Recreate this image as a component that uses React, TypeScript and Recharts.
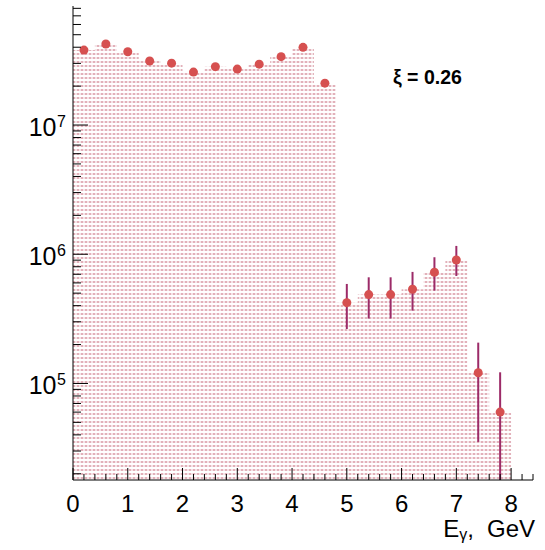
import React from 'react';
import { ComposedChart, Area, Scatter, ErrorBar, XAxis, YAxis } from 'recharts';

// bin centres (GeV), bin width 0.4
const binCenters = [0.2, 0.6, 1.0, 1.4, 1.8, 2.2, 2.6, 3.0, 3.4, 3.8, 4.2, 4.6, 5.0, 5.4, 5.8, 6.2, 6.6, 7.0, 7.4, 7.8];
const binWidth = 0.4;

const counts = [
  3.8e7, 4.24e7, 3.69e7, 3.13e7, 3.01e7, 2.57e7, 2.83e7, 2.71e7, 2.96e7, 3.38e7,
  3.99e7, 2.11e7, 4.22e5, 4.87e5, 4.87e5, 5.36e5, 7.26e5, 9.03e5, 1.21e5, 6.0e4,
];

// error bar ends (first bins: bars hidden under markers)
const errHigh = [
  3.8e7, 4.24e7, 3.69e7, 3.13e7, 3.01e7, 2.57e7, 2.83e7, 2.71e7, 2.96e7, 3.38e7,
  3.99e7, 2.11e7, 5.89e5, 6.63e5, 6.63e5, 7.3e5, 9.48e5, 1.16e6, 2.07e5, 1.22e5,
];
const errLow = [
  3.8e7, 4.24e7, 3.69e7, 3.13e7, 3.01e7, 2.57e7, 2.83e7, 2.71e7, 2.96e7, 3.38e7,
  3.99e7, 2.11e7, 2.64e5, 3.18e5, 3.18e5, 3.66e5, 5.23e5, 6.79e5, 3.53e4, 1.79e4,
];

const xDomain = [0, 8.4];
const yDomain = [1.79e4, 8.34e7];
const xLabels = [0, 1, 2, 3, 4, 5, 6, 7, 8];
const yDecades = [1e4, 1e5, 1e6, 1e7];

const xTicks: number[] = [];
for (let i = 0; i <= 42; i++) xTicks.push(Math.round(i * 2) / 10);
const yTicks: number[] = [];
yDecades.forEach((d) => {
  for (let m = 1; m <= 9; m++) {
    const v = m * d;
    if (v >= yDomain[0] && v <= yDomain[1]) yTicks.push(v);
  }
});

const histData = binCenters.map((c, i) => ({ x: c - binWidth / 2, y: counts[i] }));
histData.push({ x: binCenters[binCenters.length - 1] + binWidth / 2, y: counts[counts.length - 1] });

const points = binCenters.map((c, i) => ({
  x: c,
  y: counts[i],
  err: [counts[i] - errLow[i], errHigh[i] - counts[i]],
}));

const FONT = '"Liberation Sans", Arial, Helvetica, sans-serif';

const XTick = (props: any) => {
  const { x, y, payload } = props;
  const v = payload.value;
  const major = xLabels.some((l) => Math.abs(l - v) < 1e-6);
  return (
    <g>
      <line x1={x} x2={x} y1={y} y2={y - (major ? 12 : 6)} stroke="#000" strokeWidth={1} />
      {major && (
        <text x={x} y={y + 32} textAnchor="middle" fontSize={24} fontFamily={FONT} fill="#000">
          {Math.round(v)}
        </text>
      )}
    </g>
  );
};

const YTick = (props: any) => {
  const { x, y, payload } = props;
  const v = payload.value;
  const e = Math.log10(v);
  const major = Math.abs(e - Math.round(e)) < 1e-6;
  return (
    <g>
      <line x1={x} x2={x + (major ? 15 : 8)} y1={y} y2={y} stroke="#000" strokeWidth={1} />
      {major && (
        <g fontFamily={FONT} fill="#000">
          <text x={x - 16.5} y={y + 11} textAnchor="end" fontSize={25}>10</text>
          <text x={x - 16} y={y + 2} textAnchor="start" fontSize={16}>{Math.round(e)}</text>
        </g>
      )}
    </g>
  );
};

const Dot = (props: any) => {
  const { cx, cy } = props;
  return <circle cx={cx} cy={cy} r={4.5} fill="#d65050" />;
};

export default function App() {
  return (
    <div style={{ position: 'absolute', left: 0, top: 0, background: '#fff' }}>
      <svg width={0} height={0} style={{ position: 'absolute' }}>
        <defs>
          <pattern id="pinkDots" x={0} y={0} width={4} height={4} patternUnits="userSpaceOnUse">
            <rect x={0} y={0} width={4} height={4} fill="#ffffff" />
            <rect x={0} y={1} width={4} height={2} fill="#f5e4e7" />
            <rect x={1} y={1} width={2} height={2} fill="#e2b1ba" />
          </pattern>
        </defs>
      </svg>
      <ComposedChart
        width={545}
        height={550}
        data={histData}
        margin={{ top: 6, right: 12, left: 0, bottom: 0 }}
      >
        <XAxis
          dataKey="x"
          type="number"
          domain={xDomain}
          ticks={xTicks}
          interval={0}
          allowDataOverflow
          height={70}
          tickSize={0}
          tickMargin={0}
          tickLine={false}
          tick={<XTick />}
          axisLine={{ stroke: '#000' }}
          label={{
            content: () => (
              <text x={535} y={537} textAnchor="end" fontSize={24} fontFamily={FONT} fill="#000">
                <tspan>E</tspan>
                <tspan fontSize={16} dy={3}>γ</tspan>
                <tspan dy={-3}>,</tspan>
                <tspan dx={13}>GeV</tspan>
              </text>
            ),
          }}
        />
        <XAxis
          xAxisId="top"
          orientation="top"
          type="number"
          domain={xDomain}
          height={0}
          tick={false}
          tickLine={false}
          axisLine={{ stroke: '#000' }}
        />
        <YAxis
          dataKey="y"
          scale="log"
          type="number"
          domain={yDomain}
          ticks={yTicks}
          interval={0}
          allowDataOverflow
          width={73}
          tickSize={0}
          tickMargin={0}
          tickLine={false}
          tick={<YTick />}
          axisLine={{ stroke: '#000' }}
        />
        <YAxis
          yAxisId="right"
          orientation="right"
          type="number"
          width={0}
          tick={false}
          tickLine={false}
          axisLine={{ stroke: '#000' }}
        />
        <Area
          type="stepAfter"
          dataKey="y"
          baseValue={yDomain[0]}
          stroke="none"
          fill="url(#pinkDots)"
          fillOpacity={1}
          dot={false}
          activeDot={false}
          isAnimationActive={false}
        />
        <Scatter data={points} dataKey="y" shape={<Dot />} isAnimationActive={false}>
          <ErrorBar dataKey="err" direction="y" width={0} stroke="#9c2b68" strokeWidth={2} />
        </Scatter>
        <text x={393} y={84} fontSize={19.5} fontWeight="bold" fontFamily={FONT} fill="#000">
          ξ = 0.26
        </text>
      </ComposedChart>
    </div>
  );
}
